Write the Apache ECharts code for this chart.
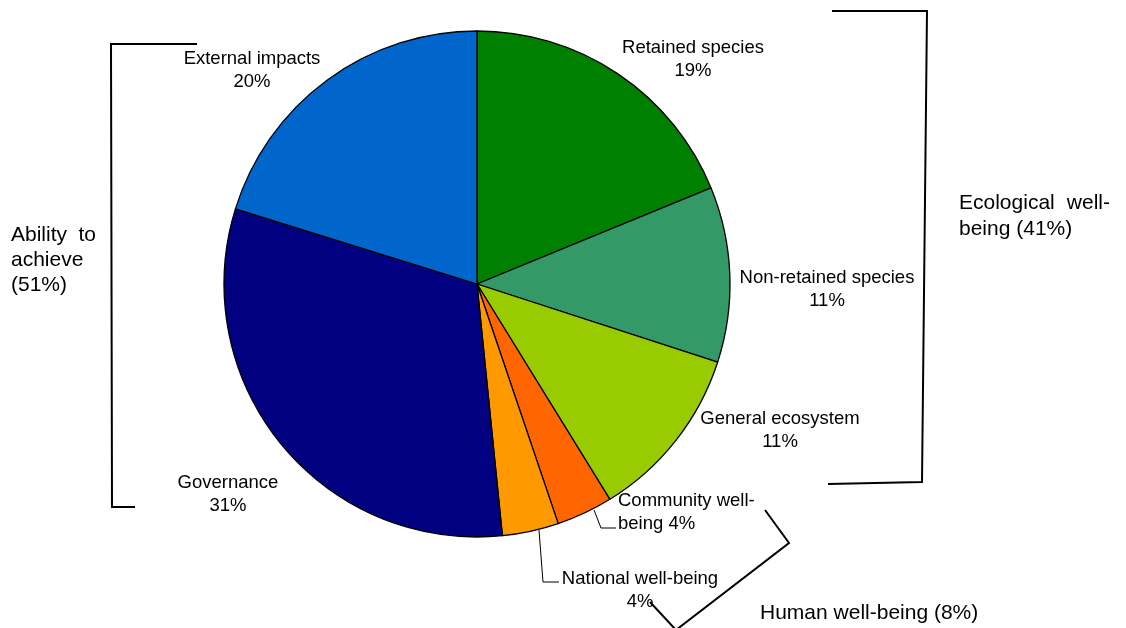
<!DOCTYPE html>
<html>
<head>
<meta charset="utf-8">
<script src="https://cdn.jsdelivr.net/npm/echarts@6/dist/echarts.min.js"></script>
<style>
html,body{margin:0;padding:0;background:#fff;}
#chart{width:1126px;height:628px;}
</style>
</head>
<body>
<div id="chart"></div>
<script>
// ---- data ----
var categories = ['Retained species', 'Non-retained species', 'General ecosystem',
  'Community well-being', 'National well-being', 'Governance', 'External impacts'];
var values = [18.8, 11.2, 11.2, 3.6, 3.6, 31.4, 20.2];
var colors = ['#008000', '#339966', '#99CC00', '#FF6600', '#FF9900', '#000080', '#0066CC'];

// group annotations
var groupLabels = ['Ability to achieve (51%)', 'Ecological well-being (41%)', 'Human well-being (8%)'];

// ---- layout (presentation only) ----
var labelPos = [
  {x: 693, y: 59, align: 'center'},
  {x: 827, y: 289, align: 'center'},
  {x: 780, y: 430, align: 'center'},
  {x: 618, y: 512, align: 'left'},
  {x: 640, y: 590, align: 'center'},
  {x: 228, y: 494, align: 'center'},
  {x: 252, y: 70, align: 'center'}
];
var leaderPts = {
  3: [[594, 510], [601, 528], [616, 528]],
  4: [[539, 530], [543, 582], [559, 582]]
};

var FONT = '"Liberation Sans", Arial, sans-serif';

var chart = echarts.init(document.getElementById('chart'));

var pieData = categories.map(function (c, i) {
  var item = {name: c, value: values[i], itemStyle: {color: colors[i]}};
  if (leaderPts[i]) {
    item.labelLine = {show: true, lineStyle: {color: '#000', width: 1}};
  }
  return item;
});

function annText(text, x, y, align) {
  return {
    type: 'text', left: undefined, x: x, y: y, z: 10,
    style: {text: text, x: 0, y: 0, fill: '#000', font: '21px ' + FONT,
      align: align || 'left', verticalAlign: 'middle'}
  };
}
function bracket(points) {
  return {type: 'polyline', z: 10, shape: {points: points},
    style: {stroke: '#000', lineWidth: 2, fill: null}};
}

var ab = groupLabels[0].split(' ');      // Ability to achieve (51%)
var eco = groupLabels[1].split(' ');     // Ecological well-being (41%)
var ecoWell = eco[1].split('-');

var option = {
  backgroundColor: '#fff',
  animation: false,
  series: [{
    type: 'pie',
    center: [477, 284],
    radius: 253,
    startAngle: 90,
    clockwise: true,
    percentPrecision: 0,
    avoidLabelOverlap: false,
    data: pieData,
    itemStyle: {borderColor: '#000', borderWidth: 1.3},
    label: {
      show: true,
      position: 'outside',
      color: '#000',
      fontFamily: FONT,
      fontSize: 18.5,
      lineHeight: 23,
      formatter: function (p) {
        if (p.dataIndex === 3) {
          return p.name.replace('well-being', 'well-\nbeing') + ' ' + p.percent + '%';
        }
        return p.name + '\n' + p.percent + '%';
      }
    },
    labelLine: {show: false},
    labelLayout: function (params) {
      var lp = labelPos[params.dataIndex];
      var r = {x: lp.x, y: lp.y, align: lp.align, verticalAlign: 'middle'};
      if (leaderPts[params.dataIndex]) r.labelLinePoints = leaderPts[params.dataIndex];
      return r;
    },
    emphasis: {disabled: true}
  }],
  graphic: [
    // left bracket
    bracket([[197, 44], [111, 44], [112, 507], [135, 507]]),
    // right bracket
    bracket([[832, 11], [927, 11], [922, 482], [828, 484]]),
    // bottom bracket
    bracket([[765, 510], [789, 543], [676, 630], [650, 602]]),
    // Ability to achieve (51%)
    annText(ab[0], 11, 235, 'left'),
    annText(ab[1], 96, 235, 'right'),
    annText(ab[2], 11, 260, 'left'),
    annText(ab[3], 11, 285, 'left'),
    // Ecological well-being (41%)
    annText(eco[0], 959, 203, 'left'),
    annText(ecoWell[0] + '-', 1110, 203, 'right'),
    annText(ecoWell[1] + ' ' + eco[2], 959, 229, 'left'),
    // Human well-being (8%)
    annText(groupLabels[2], 760, 613, 'left')
  ]
};
chart.setOption(option);
</script>
</body>
</html>
